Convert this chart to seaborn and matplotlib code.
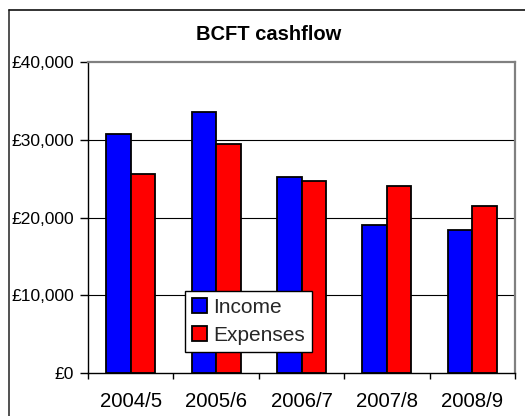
import pandas as pd
import matplotlib
matplotlib.use('Agg')
import matplotlib.pyplot as plt
import seaborn as sns
from matplotlib.ticker import FuncFormatter, FixedLocator
from matplotlib.lines import Line2D

# chart values
years = ['2004/5', '2005/6', '2006/7', '2007/8', '2008/9']
income = [30700, 33600, 25250, 19000, 18400]
expenses = [25600, 29450, 24700, 24000, 21500]

data = pd.DataFrame({
    'year': years * 2,
    'value': income + expenses,
    'series': ['Income'] * len(years) + ['Expenses'] * len(years),
})

sns.set_theme(style='white')
plt.rcParams['font.family'] = ['Liberation Sans', 'DejaVu Sans']

fig = plt.figure(figsize=(5.25, 4.16), dpi=100)
ax = fig.add_axes([88 / 525, 43 / 416, 427 / 525, 311 / 416])

sns.barplot(data=data, x='year', y='value', hue='series',
            palette=['#0000FF', '#FF0000'], edgecolor='black', linewidth=1.3,
            width=0.575, gap=0, saturation=1, ax=ax)

ax.set_xlim(-0.5, 4.5)
ax.set_ylim(0, 40000)
ax.set_yticks(range(0, 40001, 10000))
ax.yaxis.set_major_formatter(FuncFormatter(lambda v, p: f'£{v:,.0f}'))
ax.set_xlabel('')
ax.set_ylabel('')

# gridlines (black) behind bars
for v in (10000, 20000, 30000):
    ax.axhline(v, color='black', lw=0.8, zorder=0)
ax.set_axisbelow(True)

# spines: left/bottom black, plot area border grey
for side in ('top', 'right'):
    ax.spines[side].set_color('#808080')
    ax.spines[side].set_linewidth(1.6)
for side in ('left', 'bottom'):
    ax.spines[side].set_color('black')
    ax.spines[side].set_linewidth(1.0)

ax.tick_params(axis='y', direction='out', length=6, width=1, color='black',
               labelsize=12.5, pad=4, left=True)
ax.tick_params(axis='x', which='major', length=0, labelsize=14.7, pad=14)
ax.xaxis.set_minor_locator(FixedLocator([-0.5, 0.5, 1.5, 2.5, 3.5, 4.5]))
ax.tick_params(axis='x', which='minor', direction='out', length=4, width=1,
               color='black', bottom=True)
for lab in ax.get_yticklabels() + ax.get_xticklabels():
    lab.set_color('black')

leg = ax.legend(loc='lower left', bbox_to_anchor=(0.227, 0.0675),
                borderaxespad=0, fontsize=15, frameon=True, fancybox=False,
                edgecolor='black', framealpha=1, handlelength=0.7,
                handleheight=0.7, handletextpad=0.3, labelspacing=0.42,
                borderpad=0.35)
leg.get_frame().set_linewidth(1.0)
leg.set_title(None)

fig.text(269 / 525, 1 - 35 / 416, 'BCFT cashflow', ha='center', va='center',
         fontsize=14.5, fontweight='bold', color='black')

# outer chart border (only left and top edges visible)
fig.add_artist(Line2D([8.5 / 525, 8.5 / 525], [0, 1 - 9.5 / 416],
                      color='#333333', lw=1.2, transform=fig.transFigure))
fig.add_artist(Line2D([8.5 / 525, 1], [1 - 9.5 / 416, 1 - 9.5 / 416],
                      color='#111111', lw=1.2, transform=fig.transFigure))

fig.savefig('out.png', dpi=100)
